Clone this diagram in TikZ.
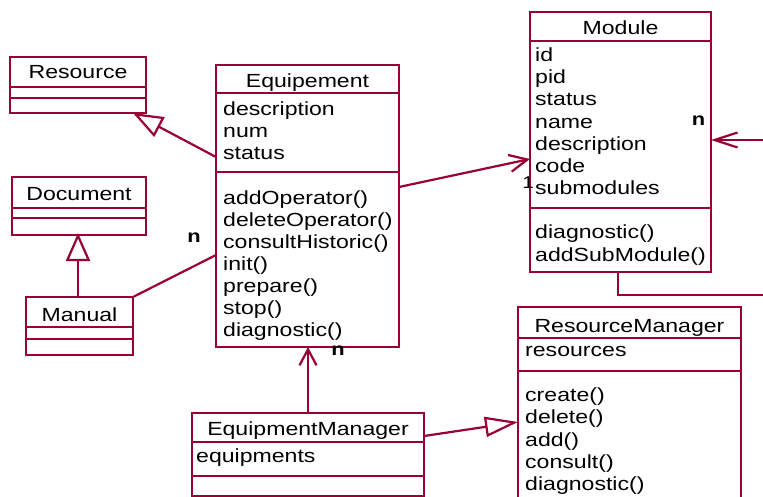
\documentclass[tikz,border=0pt]{standalone}
\usepackage{fontspec}
\setmainfont[FakeStretch=1.215]{Liberation Sans}
\usetikzlibrary{arrows.meta,calc}
\definecolor{rose}{HTML}{990033}
\begin{document}
\begin{tikzpicture}[x=1pt,y=-1pt,
  cls/.style={draw=rose, line width=2.2pt, inner sep=0pt, outer sep=0pt, rectangle},
  div/.style={draw=rose, line width=2.2pt},
  txt/.style={anchor=base west, inner sep=0pt, yshift=-1.5pt, font=\fontsize{19}{22}\selectfont},
  ttl/.style={anchor=base, inner sep=0pt, yshift=-1pt, font=\fontsize{19}{22}\selectfont},
  lbl/.style={inner sep=0pt, font=\fontsize{18}{22}\selectfont\bfseries},
  lnk/.style={draw=rose, line width=2.2pt},
  gen/.style 2 args={lnk, -{Triangle[open, length=#1, width=#2]}},
  assoc/.style 2 args={lnk, -{Straight Barb[length=#1, width=#2]}}
]
\useasboundingbox (0,0) rectangle (763,497);
\fill[white] (0,0) rectangle (763,497);

% ---- classes ----
\node[cls, minimum width=136pt, minimum height=56pt] (resource) at (78,85) {};
\draw[div] (resource.west |- 0,87) -- (resource.east |- 0,87);
\draw[div] (resource.west |- 0,98) -- (resource.east |- 0,98);
\node[ttl] (resourceT) at (78,78) {Resource};

\node[cls, minimum width=134pt, minimum height=58pt] (document) at (79,206) {};
\draw[div] (document.west |- 0,208) -- (document.east |- 0,208);
\draw[div] (document.west |- 0,218) -- (document.east |- 0,218);
\node[ttl] (documentT) at (79,200) {Document};

\node[cls, minimum width=107pt, minimum height=58pt] (manual) at (79.5,326) {};
\draw[div] (manual.west |- 0,327) -- (manual.east |- 0,327);
\draw[div] (manual.west |- 0,339) -- (manual.east |- 0,339);
\node[ttl] (manualT) at (79.5,320) {Manual};

\node[cls, minimum width=183pt, minimum height=282pt] (equip) at (307.5,206) {};
\draw[div] (equip.west |- 0,93) -- (equip.east |- 0,93);
\draw[div] (equip.west |- 0,172) -- (equip.east |- 0,172);
\node[ttl] (equipT) at (307.5,87) {Equipement};
\node[txt] (e1) at (223,114) {description};
\node[txt] (e2) at (223,136) {num};
\node[txt] (e3) at (223,158) {status};
\node[txt] (e4) at (223,203) {addOperator()};
\node[txt] (e5) at (223,225) {deleteOperator()};
\node[txt] (e6) at (223,247) {consultHistoric()};
\node[txt] (e7) at (223,269) {init()};
\node[txt] (e8) at (223,291) {prepare()};
\node[txt] (e9) at (223,313) {stop()};
\node[txt] (e10) at (223,335) {diagnostic()};

\node[cls, minimum width=181pt, minimum height=260pt] (module) at (620.5,142) {};
\draw[div] (module.west |- 0,41) -- (module.east |- 0,41);
\draw[div] (module.west |- 0,208) -- (module.east |- 0,208);
\node[ttl] (moduleT) at (620.5,34) {Module};
\node[txt] (m1) at (535,60) {id};
\node[txt] (m2) at (535,82.2) {pid};
\node[txt] (m3) at (535,104.4) {status};
\node[txt] (m4) at (535,126.6) {name};
\node[txt] (m5) at (535,148.8) {description};
\node[txt] (m6) at (535,171) {code};
\node[txt] (m7) at (535,193.2) {submodules};
\node[txt] (m8) at (535,237) {diagnostic()};
\node[txt] (m9) at (535,260) {addSubModule()};

\node[cls, minimum width=232pt, minimum height=83pt] (emgr) at (308,454.5) {};
\draw[div] (emgr.west |- 0,442) -- (emgr.east |- 0,442);
\draw[div] (emgr.west |- 0,476) -- (emgr.east |- 0,476);
\node[ttl] (emgrT) at (308,434) {EquipmentManager};
\node[txt] (em1) at (196,461) {equipments};

\node[cls, minimum width=223pt, minimum height=213pt] (rmgr) at (629.5,413.5) {};
\draw[div] (rmgr.west |- 0,338) -- (rmgr.east |- 0,338);
\draw[div] (rmgr.west |- 0,371) -- (rmgr.east |- 0,371);
\node[ttl] (rmgrT) at (629.5,331) {ResourceManager};
\node[txt] (r1) at (525,355) {resources};
\node[txt] (r2) at (525,400) {create()};
\node[txt] (r3) at (525,422.3) {delete()};
\node[txt] (r4) at (525,444.6) {add()};
\node[txt] (r5) at (525,466.9) {consult()};
\node[txt] (r6) at (525,489.2) {diagnostic()};

% ---- connectors ----
\coordinate (ext1) at (763,140);
\coordinate (ext2) at (763,295);

\draw[gen={30pt}{22pt}] ($(equip.north west)+(0,92)$) -- ($(resource.south west)+(123,0)$);
\draw[gen={28pt}{24pt}] ($(manual.north west)+(52,0)$) -- ($(manual.north west)+(52,-64)$);
\draw[lnk] (manual.north east) -- ($(equip.north west)+(0,190)$);
\node[lbl] (n1) at (194,237.5) {n};

\draw[assoc={16pt}{17pt}] (emgr.north) -- (emgr.north |- equip.south);
\node[lbl] (n2) at (338,350.5) {n};

\draw[gen={33pt}{20pt}] ($(emgr.north east)+(0,23)$) -- ($(rmgr.north west)+(0,115)$);

\draw[assoc={18pt}{17pt}] ($(equip.north east)+(0,122)$) -- ($(module.north west)+(0,147)$);
\node[inner sep=0pt, font=\fontsize{17}{20}\selectfont] (one) at (528,183) {1};

\draw[assoc={23pt}{15pt}] (ext1) -- (module.east |- ext1);
\node[lbl] (n3) at (698.5,120.5) {n};

\draw[lnk] ($(module.south west)+(88,0)$) |- (ext2);
\end{tikzpicture}
\end{document}
